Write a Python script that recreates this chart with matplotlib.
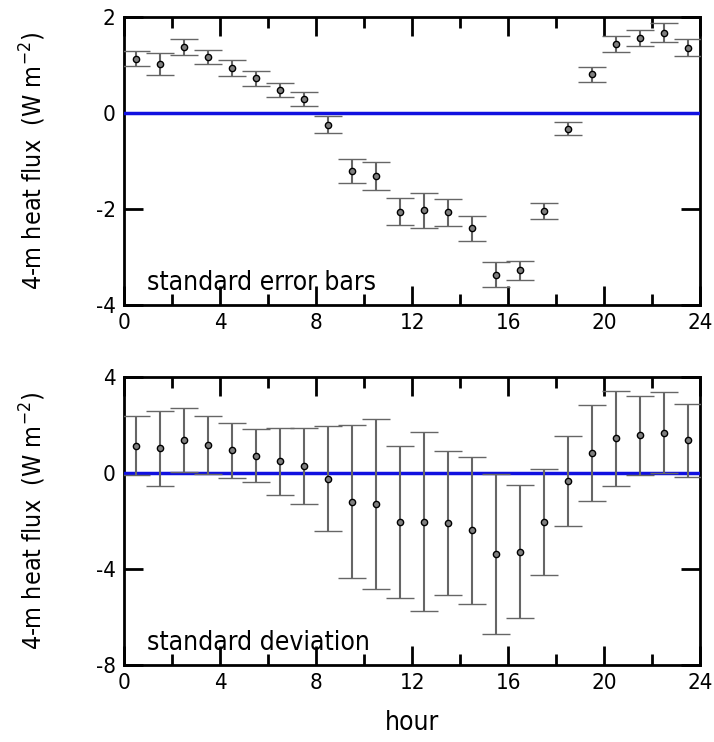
import numpy as np
import matplotlib
matplotlib.use("Agg")
from matplotlib import pyplot as plt
from matplotlib.ticker import MultipleLocator

plt.rcParams['font.family'] = ['DejaVu Sans']
plt.rcParams['font.stretch'] = 'condensed'
plt.rcParams['axes.unicode_minus'] = False

hours = [h + 0.5 for h in range(24)]
flux_mean = [1.13, 1.03, 1.37, 1.17, 0.94, 0.72, 0.48, 0.29, -0.24, -1.20, -1.31, -2.06,
             -2.03, -2.07, -2.40, -3.37, -3.28, -2.04, -0.33, 0.81, 1.44, 1.57, 1.67, 1.36]
flux_se = [0.16, 0.23, 0.17, 0.15, 0.17, 0.16, 0.15, 0.14, 0.17, 0.25, 0.29, 0.28,
           0.36, 0.28, 0.26, 0.26, 0.20, 0.16, 0.135, 0.155, 0.17, 0.17, 0.20, 0.18]
flux_sd = [1.23, 1.56, 1.33, 1.20, 1.15, 1.12, 1.40, 1.60, 2.19, 3.19, 3.54, 3.17,
           3.73, 3.00, 3.05, 3.33, 2.78, 2.21, 1.87, 2.00, 1.98, 1.64, 1.69, 1.52]

panels = [
    (flux_se, 'standard error bars', (-4, 2), 2),
    (flux_sd, 'standard deviation', (-8, 4), 4),
]

fig = plt.figure(figsize=(7.14, 7.42), dpi=100)
ax_top = fig.add_axes([0.1737, 0.589, 0.807, 0.388])
ax_bot = fig.add_axes([0.1737, 0.104, 0.807, 0.388])

for ax, (err, label, ylim, ystep) in zip([ax_top, ax_bot], panels):
    ax.axhline(0, color='#1010e0', lw=2.5, zorder=2.6)
    ax.errorbar(hours, flux_mean, yerr=err, fmt='o', ms=4.5, mfc='#808080', mec='black',
                mew=1.0, ecolor='#666666', elinewidth=1.5, capsize=10, capthick=1.5, zorder=3)
    ax.set_xlim(0, 24)
    ax.set_ylim(*ylim)
    ax.xaxis.set_major_locator(MultipleLocator(4))
    ax.xaxis.set_minor_locator(MultipleLocator(2))
    ax.yaxis.set_major_locator(MultipleLocator(ystep))
    ax.tick_params(which='both', direction='in', top=True, right=True, labelsize=16, width=2)
    ax.tick_params(which='major', length=14, pad=6)
    ax.tick_params(which='minor', length=8)
    for s in ax.spines.values():
        s.set_linewidth(2)
    ax.set_ylabel('4-m heat flux  (W m$^{-2}$)', fontsize=18, labelpad=34)
    ax.text(0.04, 0.03, label, transform=ax.transAxes, fontsize=19, va='bottom', ha='left')

ax_bot.set_xlabel('hour', fontsize=19, labelpad=12)

fig.savefig('out.png', dpi=100)
